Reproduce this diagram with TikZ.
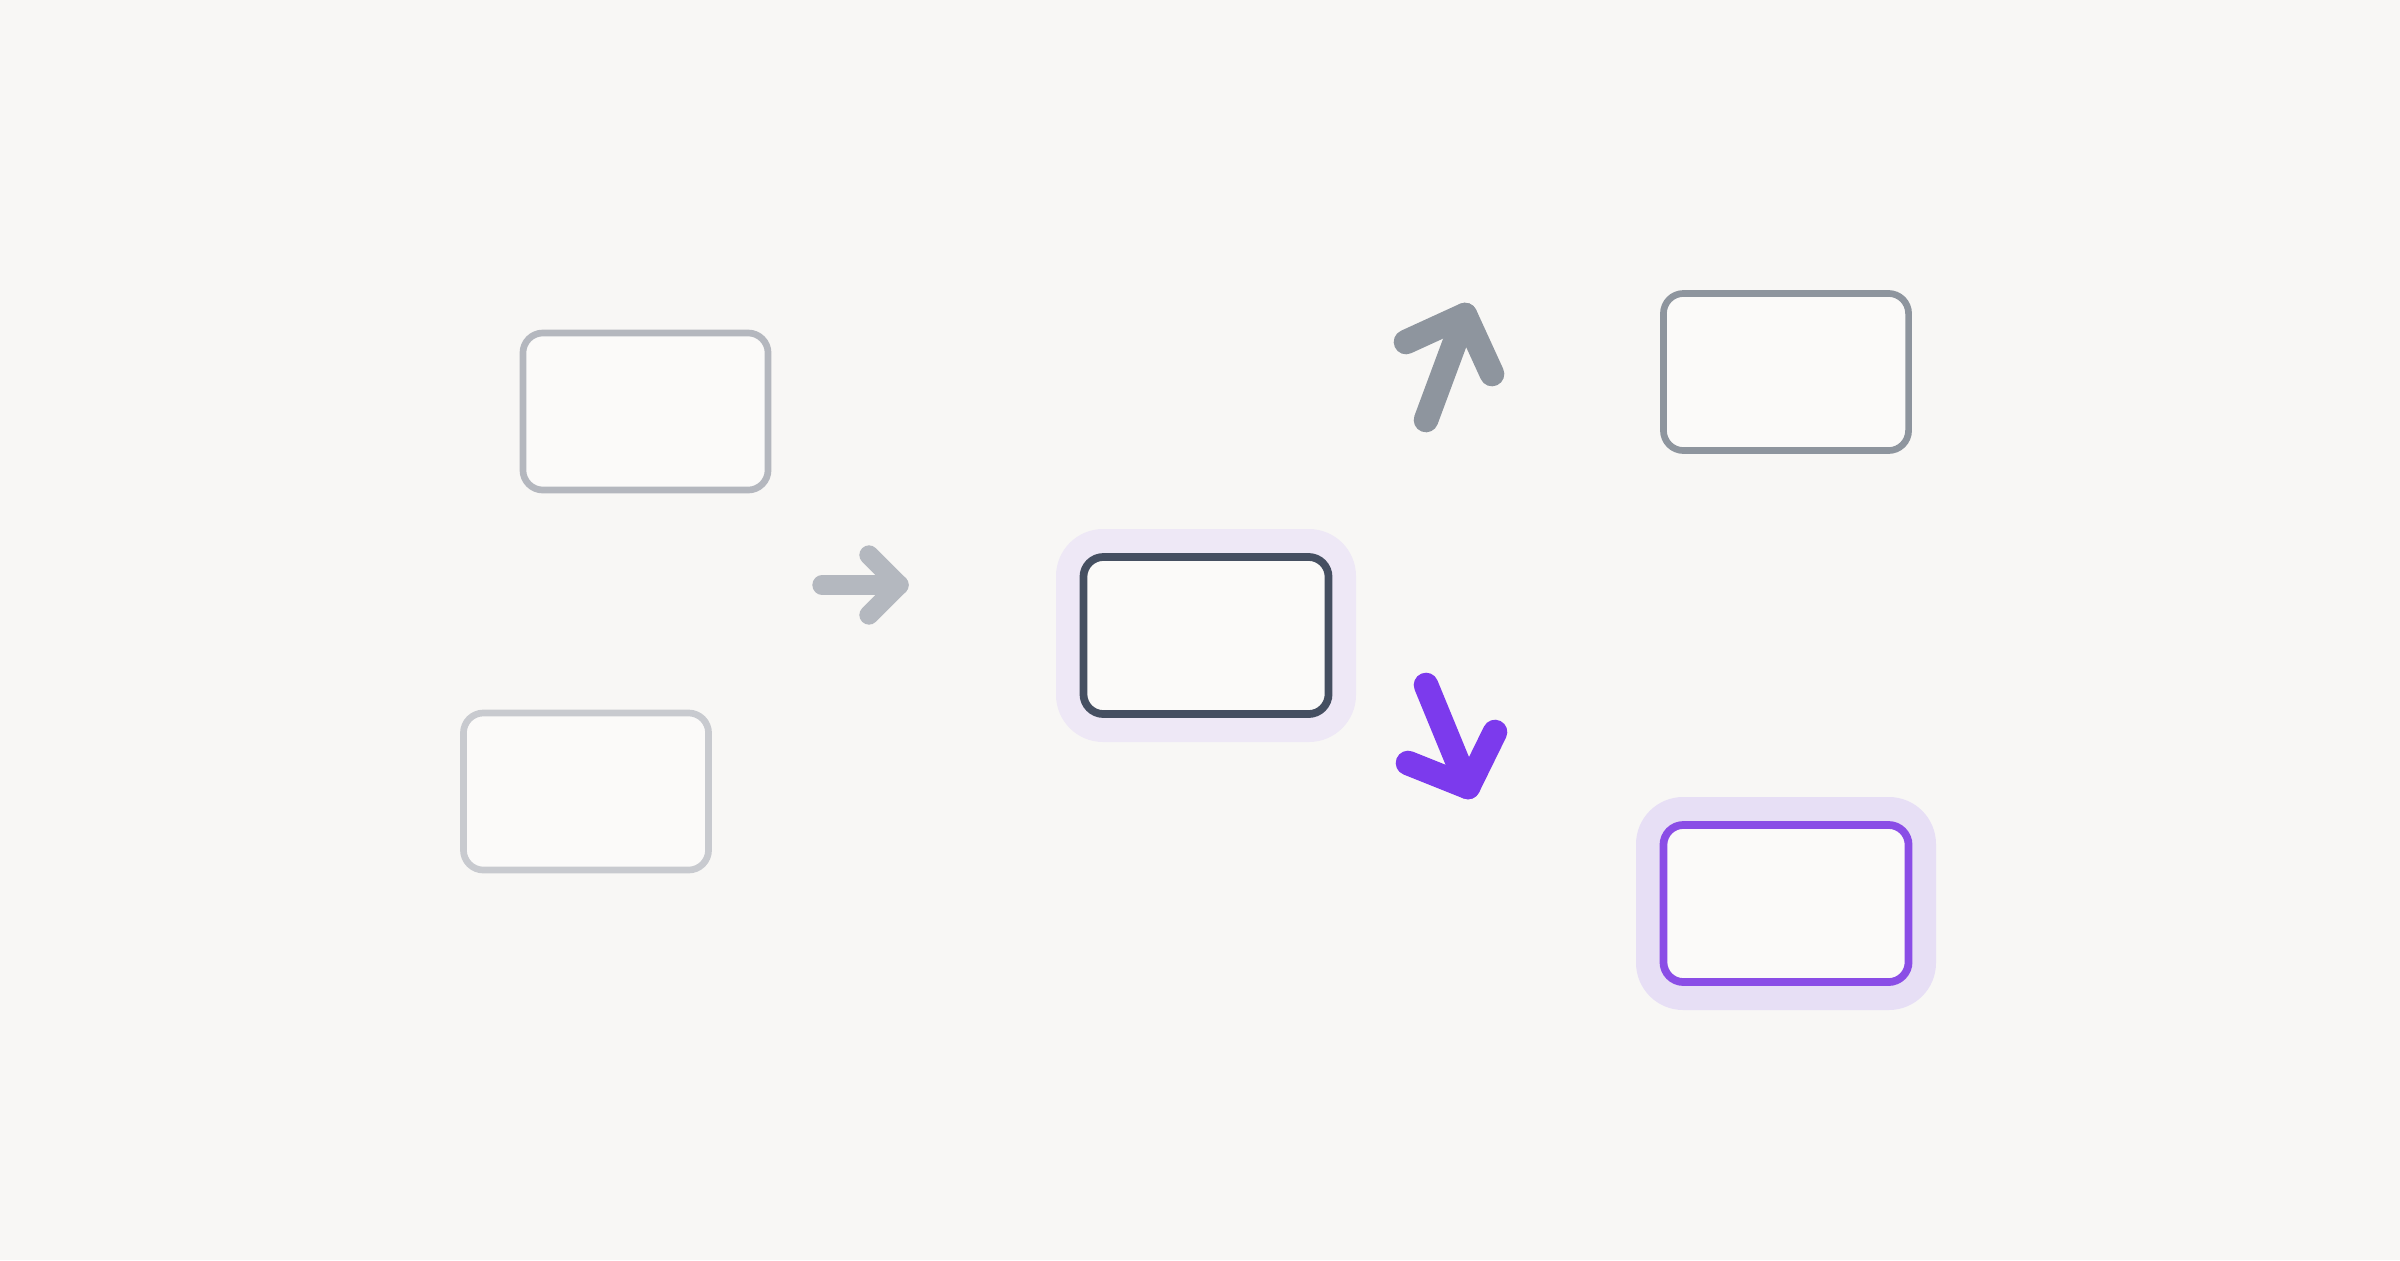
\documentclass[tikz,border=0pt]{standalone}
\usetikzlibrary{calc}
\definecolor{bgcol}{HTML}{F8F7F5}
\definecolor{boxfill}{HTML}{FBFAF9}
\definecolor{grayA}{HTML}{B4B7BE}
\definecolor{grayB}{HTML}{C8CACF}
\definecolor{slate}{HTML}{454F61}
\definecolor{grayC}{HTML}{8E959E}
\definecolor{purp}{HTML}{8A4DE6}
\definecolor{purpArrow}{HTML}{7C3AED}
\definecolor{haloA}{HTML}{EEE8F6}
\definecolor{haloB}{HTML}{E7DFF5}
\definecolor{arrowGray}{HTML}{B4B8BF}
\tikzset{
  card/.style={rectangle, rounded corners=5.7pt, minimum width=2.45cm, minimum height=1.57cm, fill=boxfill, line width=1.9pt, inner sep=0pt, outer sep=0pt},
  icon/.style={line width=#1, line cap=round, line join=round},
}
\begin{document}
\begin{tikzpicture}[x=0.01cm,y=-0.01cm]
\fill[bgcol] (0,0) rectangle (2400,1260);
\useasboundingbox (0,0) rectangle (2400,1260);

% halos
\fill[haloA, rounded corners=13.4pt] (1056,529) rectangle (1356,742);
\fill[haloB, rounded corners=13.4pt] (1636,797) rectangle (1936,1010);

% cards
\node[card, draw=grayA] (in1) at (645.5,411.5) {};
\node[card, draw=grayB] (in2) at (586,791.5) {};
\node[card, draw=slate, line width=2.2pt] (mid) at (1206,635.5) {};
\node[card, draw=grayC] (out1) at (1786,372) {};
\node[card, draw=purp, line width=2.2pt] (out2) at (1786,903.5) {};

% arrow: inputs -> middle
\coordinate (r0) at (822,585);
\coordinate (r1) at (899,585);
\coordinate (ra) at (869,555);
\coordinate (rb) at (869,615);
\draw[icon=5.5pt, arrowGray] (r0) -- (r1);
\draw[icon=5.5pt, arrowGray] (ra) -- (r1) -- (rb);

% arrow: up
\coordinate (u0) at (1426,420);
\coordinate (u1) at (1465,315);
\coordinate (ua) at (1406,342);
\coordinate (ub) at (1492,374);
\draw[icon=7pt, grayC] (u0) -- (u1);
\draw[icon=7pt, grayC] (ua) -- (u1) -- (ub);

% arrow: down
\coordinate (d0) at (1426,685);
\coordinate (d1) at (1468,787);
\coordinate (da) at (1408,763);
\coordinate (db) at (1495,732);
\draw[icon=7pt, purpArrow] (d0) -- (d1);
\draw[icon=7pt, purpArrow] (da) -- (d1) -- (db);
\end{tikzpicture}
\end{document}
